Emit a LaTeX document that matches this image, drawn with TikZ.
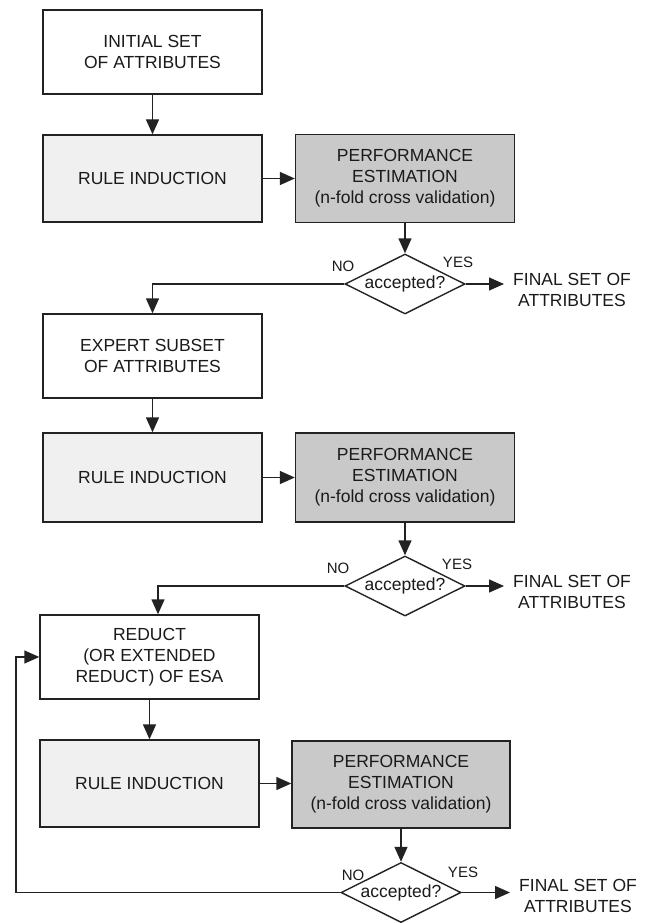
\documentclass[tikz,border=0pt]{standalone}
\usepackage{fontspec}
\setmainfont{Liberation Sans}
\usetikzlibrary{arrows.meta,shapes.geometric,calc}
\definecolor{linec}{HTML}{222222}
\definecolor{txt}{HTML}{1A1A1A}
\definecolor{lightfill}{HTML}{F0F0F0}
\definecolor{darkfill}{HTML}{C9C9C9}
\begin{document}
\begin{tikzpicture}[x=1pt,y=-1pt,
  font=\fontsize{17.5}{21}\selectfont,
  box/.style={draw=linec, line width=1.4pt, minimum width=219pt, align=center, inner sep=0pt, text=txt, fill=white},
  rulebox/.style={box, fill=lightfill, minimum height=87pt},
  perfbox/.style={box, fill=darkfill, minimum height=88pt},
  dia/.style={diamond, draw=linec, line width=1.4pt, aspect=2, minimum width=120pt, minimum height=60pt, inner sep=0pt, fill=white, text=txt},
  lab/.style={font=\fontsize{15}{18}\selectfont, text=txt, inner sep=0pt},
  fin/.style={align=center, text=txt, inner xsep=9pt, inner ysep=0pt, anchor=west},
  arr/.style={draw=linec, line width=1.4pt, -{Triangle[length=15pt,width=13pt]}},
  ln/.style={draw=linec, line width=1.4pt}
]
\useasboundingbox (0,0) rectangle (646,923);

% first block
\node[box, minimum height=84pt] (b1) at (152.5,52) {INITIAL SET\\OF ATTRIBUTES};
\node[rulebox] (b2) at (152.5,178.5) {RULE INDUCTION};
\node[perfbox] (b3) at (405,178.5) {PERFORMANCE\\ESTIMATION\\(n-fold cross validation)};
\node[dia] (d1) at (405,284) {accepted?};
\node[lab] (no1) at (343,266) {NO};
\node[lab] (yes1) at (458,262) {YES};
\node[fin] (f1) at (504,289.5) {FINAL SET OF\\ATTRIBUTES};

% second block
\node[box, minimum height=84pt] (b4) at (152.5,356) {EXPERT SUBSET\\OF ATTRIBUTES};
\node[rulebox, minimum height=89pt] (b5) at (152.5,477.5) {RULE INDUCTION};
\node[perfbox, minimum height=89pt] (b6) at (405,477.5) {PERFORMANCE\\ESTIMATION\\(n-fold cross validation)};
\node[dia] (d2) at (405,586) {accepted?};
\node[lab] (no2) at (338,568) {NO};
\node[lab] (yes2) at (457,564) {YES};
\node[fin] (f2) at (504,591.5) {FINAL SET OF\\ATTRIBUTES};

% third block
\node[box, minimum height=84pt] (b7) at (149.5,657) {REDUCT\\(OR EXTENDED\\REDUCT) OF ESA};
\node[rulebox] (b8) at (149.5,783.5) {RULE INDUCTION};
\node[perfbox, minimum width=218pt, minimum height=87pt] (b9) at (401,784.5) {PERFORMANCE\\ESTIMATION\\(n-fold cross validation)};
\node[dia] (d3) at (401,892.5) {accepted?};
\node[lab] (no3) at (353,875) {NO};
\node[lab] (yes3) at (463,872) {YES};
\node[fin] (f3) at (510,896) {FINAL SET OF\\ATTRIBUTES};
\coordinate (fb) at (16,892.5);

% connectors
\draw[arr] (b1) -- (b2);
\draw[arr] (b2.east) -- (b2.east -| b3.west);
\draw[arr] (b3) -- (d1);
\draw[arr] (d1.east) -- (d1.east -| f1.west);
\draw[arr] (d1.west) -| (b4.north);

\draw[arr] (b4) -- (b5);
\draw[arr] (b5) -- (b6);
\draw[arr] (b6) -- (d2);
\draw[arr] (d2.east) -- (d2.east -| f2.west);
\draw[arr] (d2.west) -| ([xshift=8.5pt]b7.north);

\draw[arr] (b7) -- (b8);
\draw[arr] (b8.east) -- (b8.east -| b9.west);
\draw[arr] (b9) -- (d3);
\draw[arr] (d3.east) -- (d3.east -| f3.west);
\draw[arr] (d3.west) -- (fb) |- (b7.west);
\end{tikzpicture}
\end{document}
